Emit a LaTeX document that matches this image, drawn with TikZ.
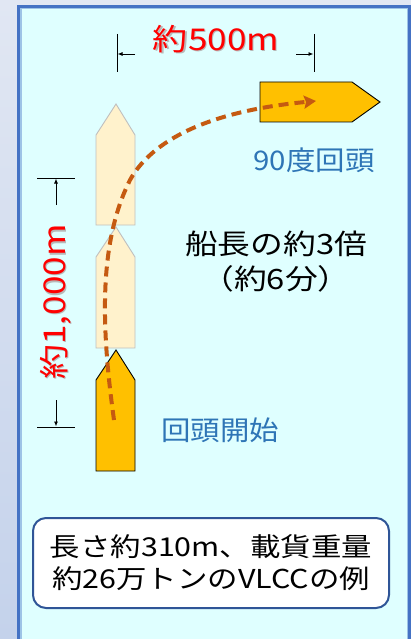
\documentclass[tikz,border=0pt]{standalone}
\usepackage{fontspec}
\setmainfont{Noto Sans CJK JP}
\newfontfamily\jpwide[FakeStretch=1.17]{Noto Sans CJK JP}
\newfontfamily\jpmid[FakeStretch=1.09]{Noto Sans CJK JP}
\usetikzlibrary{arrows.meta}
\definecolor{bgtop}{HTML}{E1E7F3}
\definecolor{bgbot}{HTML}{C4D2EB}
\definecolor{panel}{HTML}{DFFFFF}
\definecolor{pborder}{HTML}{4472C4}
\definecolor{pinner}{HTML}{9DC3E6}
\definecolor{shipfill}{HTML}{FFC000}
\definecolor{ghostfill}{HTML}{FFF2CC}
\definecolor{ghostline}{HTML}{BFBFBF}
\definecolor{trackcol}{HTML}{C55A11}
\definecolor{bluetext}{HTML}{2E75B6}
\definecolor{boxline}{HTML}{2F5597}
\definecolor{redtext}{HTML}{FF0000}
\tikzset{
  ship/.style={draw=black, line width=0.9pt, fill=shipfill, line join=miter},
  ghost/.style={draw=ghostline, line width=0.9pt, fill=ghostfill},
  dimline/.style={draw=black, line width=0.9pt},
  dimarrow/.style={draw=black, line width=0.9pt, -{Latex[length=5pt,width=4pt]}},
  redlabel/.style={text=redtext, font=\jpwide\fontsize{30}{32}\selectfont, inner sep=0pt},
  shadowlabel/.style={text=black!28, font=\jpwide\fontsize{30}{32}\selectfont, inner sep=0pt},
  bluelabel/.style={text=bluetext, font=\jpmid\fontsize{27}{30}\selectfont, inner sep=0pt},
  blacklabel/.style={text=black, font=\jpwide\fontsize{28}{35}\selectfont, inner sep=0pt, align=center},
  track/.style={draw=trackcol, line width=4pt, dash pattern=on 10pt off 6pt, -{Stealth[length=12pt,width=13pt,inset=2pt]}},
  notebox/.style={draw=boxline, line width=2pt, fill=white, rounded corners=13pt}
}
\begin{document}
\begin{tikzpicture}[x=1pt,y=-1pt]
\useasboundingbox (0,0) rectangle (411,639);
% background
\shade[top color=bgtop, bottom color=bgbot] (0,0) rectangle (411,639);
% panel
\fill[pborder] (17,5) rectangle (411,645);
\fill[pinner] (20,8) rectangle (408,645);
\fill[panel] (21.5,9.5) rectangle (406.5,645);
% top dimension
\draw[dimline] (117,34) -- (117,72);
\draw[dimline] (314,34) -- (314,72);
\coordinate (tl1) at (135,54); \coordinate (tl2) at (117.5,54);
\coordinate (tr1) at (296,54); \coordinate (tr2) at (313.5,54);
\draw[dimarrow] (tl1) -- (tl2);
\draw[dimarrow] (tr1) -- (tr2);
\node[shadowlabel] at (217.2,40.2) {約500m};
\node[redlabel] (w) at (216,39) {約500m};
% vertical dimension
\draw[dimline] (37,178) -- (75,178);
\draw[dimline] (37,427) -- (75,427);
\coordinate (vt1) at (56,205); \coordinate (vt2) at (56,178.5);
\coordinate (vb1) at (56,400); \coordinate (vb2) at (56,426.5);
\draw[dimarrow] (vt1) -- (vt2);
\draw[dimarrow] (vb1) -- (vb2);
\node[shadowlabel, rotate=90] at (57.2,303.2) {約1,000m};
\node[redlabel, rotate=90] (h) at (56,302) {約1,000m};
% ghost ships
\draw[ghost] (116,104) -- (135,135) -- (135,225) -- (96,225) -- (96,135) -- cycle;
\draw[ghost] (116,227) -- (135,257) -- (135,348) -- (96,348) -- (96,257) -- cycle;
% start ship
\draw[ship] (116,350) -- (135,380) -- (135,471) -- (96,471) -- (96,380) -- cycle;
% end ship
\draw[ship] (260,82) -- (352,82) -- (380,102) -- (352,122) -- (260,122) -- cycle;
% track
\coordinate (s) at (114,420);
\coordinate (m) at (130,180);
\coordinate (e) at (316,101);
\draw[track] (s) .. controls (100,320) and (100,240) .. (m) .. controls (155,135) and (220,110) .. (e);
% labels
\node[bluelabel] (turn) at (314,160) {90度回頭};
\node[blacklabel] (mult) at (276,262) {船長の約3倍\\（約6分）};
\node[bluelabel] (start) at (220,430) {回頭開始};
% note box
\node[notebox, minimum width=356pt, minimum height=90pt, text width=345pt, align=center, font=\jpwide\fontsize{26}{32}\selectfont, inner sep=0pt] (note) at (211,563) {長さ約310m、載貨重量\\約26万トンのVLCCの例};
\end{tikzpicture}
\end{document}
